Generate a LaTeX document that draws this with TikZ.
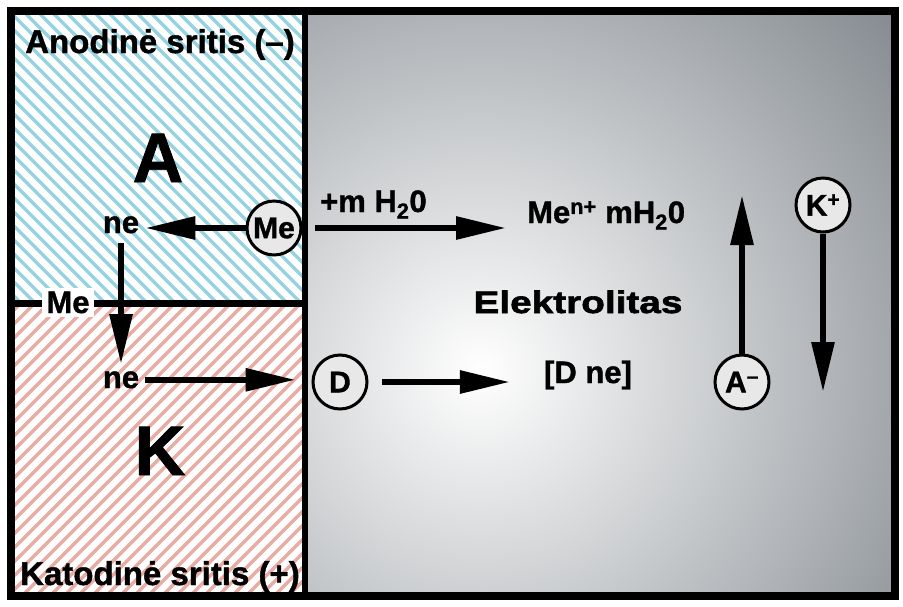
\documentclass[tikz,border=0pt]{standalone}
\usepackage{fontspec}
\setmainfont{Liberation Sans}[BoldFeatures={FakeBold=1.2}]
\newfontfamily\widefont{Liberation Sans}[FakeStretch=1.25, BoldFeatures={FakeBold=2}]
\usetikzlibrary{arrows.meta,positioning}

\definecolor{hatchblue}{RGB}{150,210,226}
\definecolor{hatchpink}{RGB}{232,172,162}
\definecolor{bggray}{RGB}{126,132,138}
\definecolor{iongray}{RGB}{232,232,232}

\tikzset{
  txt/.style={font=\fontsize{31}{34}\selectfont\bfseries, inner sep=2pt},
  ion/.style={draw, circle, line width=3, fill=iongray, minimum size=54, inner sep=0pt, font=\fontsize{30}{34}\selectfont\bfseries},
  flow/.style={line width=6, -{Triangle[length=50pt, width=22pt]}},
}

\begin{document}
\begin{tikzpicture}[x=1pt, y=-1pt]
    \useasboundingbox (0,0) rectangle (903,606);
    \fill[white] (0,0) rectangle (903,606);

    % electrolyte
    \begin{scope}
        \clip (305,11) rectangle (895,596);
        \shade[inner color=white, outer color=bggray] (480,370) circle (580);
    \end{scope}

    % anode and cathode areas
    \begin{scope}
        \clip (11,11) rectangle (305,303);
        \foreach \i in {-310,-296,...,310}
            \draw[hatchblue, line width=3.5] (\i,0) -- ++(320,320);
    \end{scope}
    \begin{scope}
        \clip (11,303) rectangle (305,596);
        \foreach \i in {-310,-296,...,310}
            \draw[hatchpink, line width=3.5] (\i,606) -- ++(310,-310);
    \end{scope}

    \draw[line width=8] (11,11) rectangle (895,596);
    \draw[line width=6.5] (305,11) -- (305,596);
    \draw[line width=7] (11,303) -- (305,303);

    \node[anchor=base, font=\fontsize{33}{36}\selectfont\bfseries] (anod) at (160,53) {Anodinė sritis (–)};
    \node[anchor=base, font=\fontsize{33}{36}\selectfont\bfseries] (katod) at (160,585) {Katodinė sritis (+)};
    \node[anchor=base, font=\fontsize{70}{80}\selectfont\bfseries] (aa) at (158,182) {A};
    \node[anchor=base, font=\fontsize{70}{80}\selectfont\bfseries] (kk) at (160,475) {K};

    \node[ion] (me) at (274,228) {Me};
    \node[txt, anchor=base] (neA) at (121,233) {ne};
    \node[txt, anchor=base] (neK) at (121,388) {ne};
    \node[txt, anchor=base, fill=white, inner sep=4pt] (mediv) at (68,313) {Me};
    \node[ion] (dd) at (340,382) {D};

    \node[txt, anchor=base west] (water) at (318,212) {+m H\textsubscript{2}0};
    \node[txt, anchor=base west] (meaq) at (525,223) {Me\textsuperscript{n+} mH\textsubscript{2}0};
    \node[anchor=base, font=\fontsize{31}{36}\widefont\bfseries] (elec) at (578,313) {Elektrolitas};
    \node[txt, anchor=base] (dne) at (588,383) {[D ne]};

    \node[ion] (an) at (742,382) {A\textsuperscript{–}};
    \node[ion] (kat) at (823,205) {K\textsuperscript{+}};
    \coordinate (anTip) at (742,195);
    \coordinate (katTip) at (823,392);

    \draw[flow, shorten >=4] (me.west) -- (me.west -| neA.east);
    \draw[flow, shorten <=7, shorten >=5] (neA.south) -- (neK.north);
    \draw[flow, shorten <=4, shorten >=16] (neK.east) -- (neK.east -| dd.west);
    \draw[flow, shorten <=12, shorten >=19] (me.east) -- (me.east -| meaq.west);
    \draw[flow, shorten <=13, shorten >=32] (dd.east) -- (dd.east -| dne.west);
    \draw[flow] (an.north) -- (anTip);
    \draw[flow] (kat.south) -- (katTip);
\end{tikzpicture}
\end{document}
